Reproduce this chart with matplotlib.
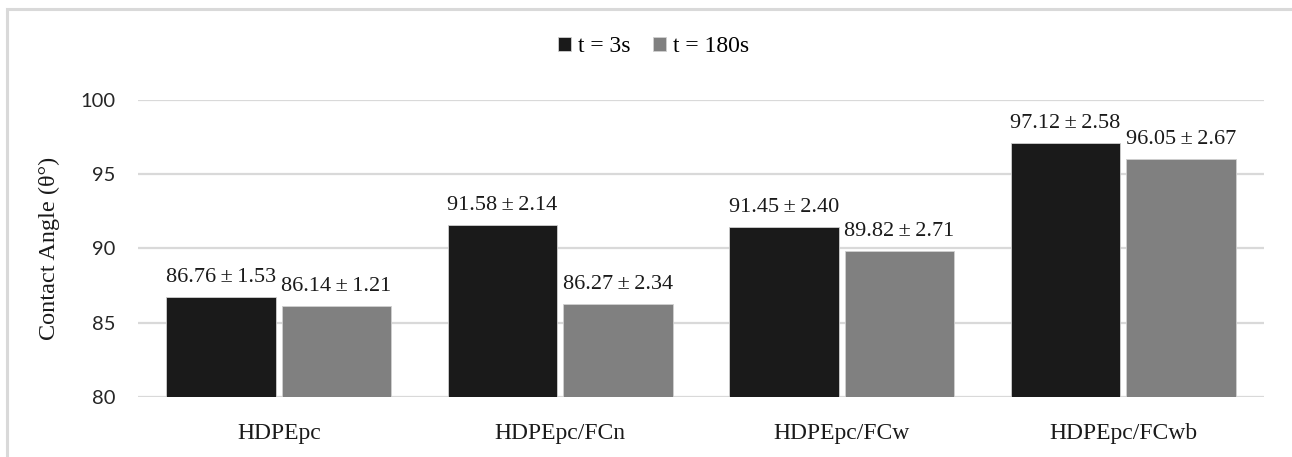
import matplotlib.pyplot as plt
import numpy as np
from matplotlib.patches import Rectangle

# ==================== Data ====================
categories = ['HDPEpc', 'HDPEpc/FCn', 'HDPEpc/FCw', 'HDPEpc/FCwb']
t3_mean = [86.76, 91.58, 91.45, 97.12]
t3_sd = [1.53, 2.14, 2.40, 2.58]
t180_mean = [86.14, 86.27, 89.82, 96.05]
t180_sd = [1.21, 2.34, 2.71, 2.67]
series_labels = ['t = 3s', 't = 180s']
y_ticks = [80, 85, 90, 95, 100]

# ==================== Style ====================
SERIF = ['Liberation Serif', 'DejaVu Serif']
SANS = ['Lato', 'DejaVu Sans']
COLOR_T3 = '#1a1a1a'
COLOR_T180 = '#808080'
GRID = '#d9d9d9'

W, H = 1292, 457
fig = plt.figure(figsize=(W / 100, H / 100), dpi=100)
ax = fig.add_axes([138 / W, 1 - 397 / H, (1264 - 138) / W, (397 - 100) / H])

# outer chart frame (cut off at right and bottom, as in the source)
fig.patches.append(Rectangle((7 / W, -0.1), 1.2, 1 - 9 / H + 0.1,
                             transform=fig.transFigure, fill=False,
                             edgecolor=GRID, linewidth=2.2, zorder=0))

x = np.arange(len(categories))
width = 0.39
offset = 0.205

bars1 = ax.bar(x - offset, np.array(t3_mean) - 80, width, bottom=80,
               color=COLOR_T3, edgecolor='#d0d0d0', linewidth=0.6,
               label=series_labels[0], zorder=3)
bars2 = ax.bar(x + offset, np.array(t180_mean) - 80, width, bottom=80,
               color=COLOR_T180, edgecolor='#d0d0d0', linewidth=0.6,
               label=series_labels[1], zorder=3)

for bars, means, sds in [(bars1, t3_mean, t3_sd), (bars2, t180_mean, t180_sd)]:
    for b, m, s in zip(bars, means, sds):
        ax.annotate(f'{m:.2f}\u2009±\u2009{s:.2f}', (b.get_x() + b.get_width() / 2, m),
                    xytext=(0, 7), textcoords='offset points',
                    ha='center', va='bottom', fontsize=16, family=SERIF,
                    color='#1a1a1a')

ax.set_xlim(-0.5, len(categories) - 0.5)
ax.set_ylim(80, 100)
ax.set_yticks(y_ticks)
ax.set_xticks(x)
ax.set_xticklabels(categories, family=SERIF, fontsize=17, color='#1a1a1a')
for lbl in ax.get_yticklabels():
    lbl.set_family(SANS)
    lbl.set_fontsize(14.5)
    lbl.set_color('#262626')

ax.set_ylabel('Contact Angle (θ°)', family=SERIF, fontsize=17.5, color='#1a1a1a')
ax.yaxis.set_label_coords(-(138 - 60) / (1264 - 138), 0.5)

for sp in ax.spines.values():
    sp.set_visible(False)
ax.grid(axis='y', color=GRID, linewidth=1.6, zorder=0)
ax.set_axisbelow(True)
ax.tick_params(axis='both', length=0)
ax.tick_params(axis='y', pad=16)
ax.tick_params(axis='x', pad=19)

fig.legend(loc='center', bbox_to_anchor=(654 / W, 1 - 47 / H), ncol=2,
           frameon=False, prop={'family': SERIF, 'size': 17},
           handlelength=0.55, handleheight=0.55, handletextpad=0.3,
           columnspacing=0.95)

fig.savefig('out.png', dpi=100, facecolor='white')
